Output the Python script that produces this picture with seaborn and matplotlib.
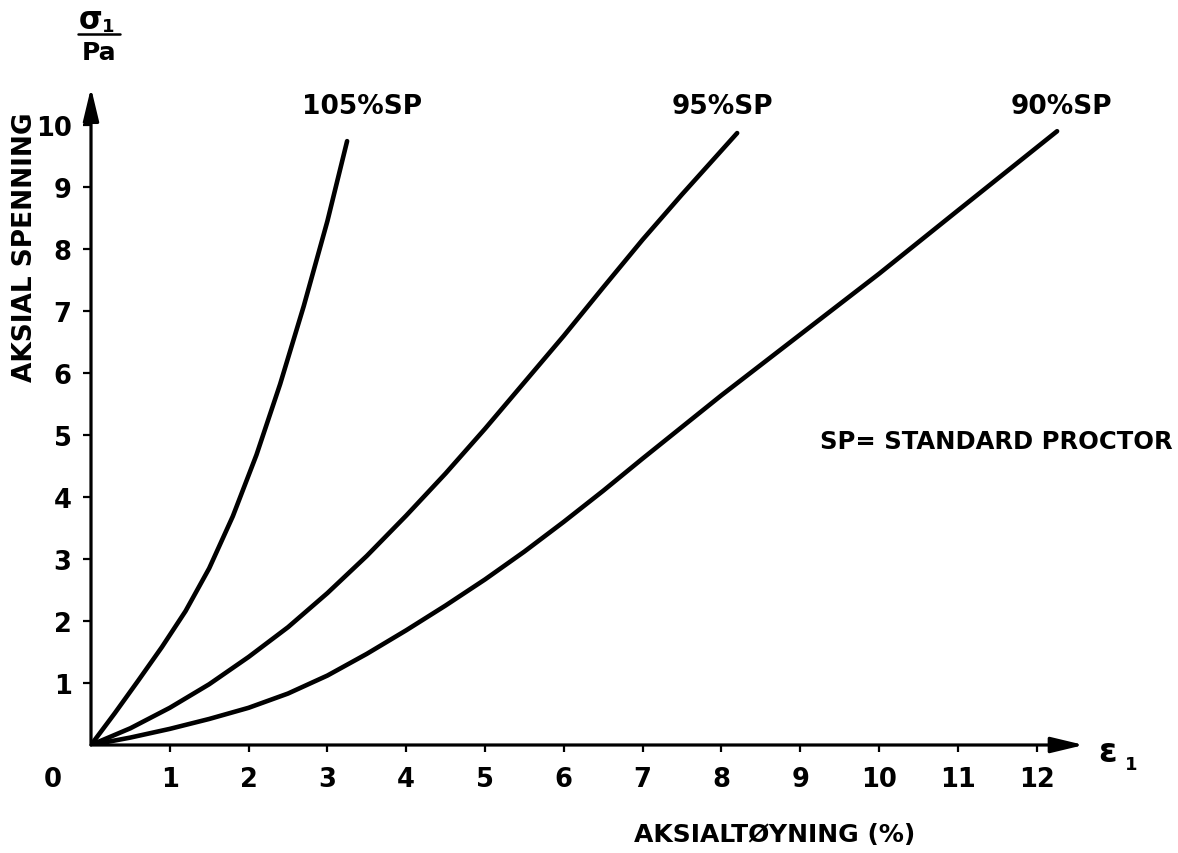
import matplotlib
matplotlib.use("Agg")
import matplotlib.pyplot as plt
from matplotlib import font_manager
import seaborn as sns
import pandas as pd

# ---- data ----
c105_x = [0, 0.30, 0.60, 0.90, 1.20, 1.50, 1.80, 2.10, 2.40, 2.70, 3.00, 3.25]
c105_y = [0, 0.51, 1.04, 1.58, 2.16, 2.85, 3.69, 4.68, 5.82, 7.08, 8.45, 9.74]

c95_x = [0, 0.50, 1.00, 1.50, 2.00, 2.50, 3.00, 3.50, 4.00, 4.50, 5.00, 5.50, 6.00, 6.50, 7.00, 7.50, 8.20]
c95_y = [0, 0.27, 0.60, 0.98, 1.42, 1.90, 2.45, 3.05, 3.70, 4.38, 5.10, 5.85, 6.60, 7.38, 8.15, 8.88, 9.87]

c90_x = [0, 0.50, 1.00, 1.50, 2.00, 2.50, 3.00, 3.50, 4.00, 4.50, 5.00, 5.50, 6.00, 6.50, 7.00, 8.00, 9.00, 10.00, 11.00, 12.26]
c90_y = [0, 0.12, 0.26, 0.42, 0.60, 0.83, 1.12, 1.47, 1.85, 2.25, 2.67, 3.12, 3.60, 4.10, 4.62, 5.64, 6.62, 7.60, 8.62, 9.90]

curve_names = ["105%SP", "95%SP", "90%SP"]
x_ticks = list(range(1, 13))
y_ticks = list(range(1, 11))

rows = []
for name, xs, ys in zip(curve_names, [c105_x, c95_x, c90_x], [c105_y, c95_y, c90_y]):
    for a, b in zip(xs, ys):
        rows.append({"curve": name, "eps": a, "sig": b})
df = pd.DataFrame(rows)

sns.set_theme(style="white")

names = {f.name for f in font_manager.fontManager.ttflist}
narrow = "Liberation Sans Narrow" in names
if narrow:
    fam = ["Liberation Sans Narrow", "DejaVu Sans"]
    fs = dict(tick=21, curve=24, note=22, xlab=23, ylab=24, zero=21, sig=26, sub=15, pa=22)
else:
    fam = ["DejaVu Sans"]
    fs = dict(tick=18.5, curve=19, note=17.5, xlab=18, ylab=19, zero=18.5, sig=24, sub=13, pa=18)
plt.rcParams["font.family"] = fam
plt.rcParams["font.weight"] = "bold"

fig = plt.figure(figsize=(11.78, 8.54), dpi=100)
W, H = 1178, 854
x0_px, y0_px = 91, 746
ux, uy = 78.8, 62.0
xmax, ymax = 12.6, 10.6
ax = fig.add_axes([x0_px / W, (H - y0_px) / H, xmax * ux / W, ymax * uy / H])

sns.lineplot(data=df, x="eps", y="sig", hue="curve", units="curve", estimator=None,
             palette=["black"] * 3, linewidth=3.3, legend=False, ax=ax, sort=False)
for ln in ax.get_lines():
    ln.set_solid_capstyle("round")
    ln.set_solid_joinstyle("round")

ax.set_xlim(0, xmax)
ax.set_ylim(0, ymax)
for s in ax.spines.values():
    s.set_visible(False)

arrow = dict(arrowstyle="-|>,head_length=1.0,head_width=0.24", color="black",
             lw=2.3, shrinkA=0, shrinkB=0, mutation_scale=20)
ax.annotate("", xy=(xmax, 0), xytext=(0, 0), xycoords="data", arrowprops=arrow,
            annotation_clip=False)
ax.annotate("", xy=(0, ymax), xytext=(0, 0), xycoords="data", arrowprops=arrow,
            annotation_clip=False)

ax.set_xticks(x_ticks)
ax.set_yticks(y_ticks)
ax.set_xticklabels([str(v) for v in x_ticks], fontweight="bold")
ax.set_yticklabels([str(v) for v in y_ticks], fontweight="bold")
ax.tick_params(axis="x", direction="out", length=5, width=1.6, pad=10,
               labelsize=fs["tick"], colors="black", bottom=True)
ax.tick_params(axis="y", direction="out", length=6, width=1.6, pad=8,
               labelsize=fs["tick"], colors="black", left=True)
ax.set_xlabel("")
ax.set_ylabel("")

kw = dict(transform=ax.transData, clip_on=False, color="black", fontweight="bold")
ax.text(-0.49, -0.55, "0", fontsize=fs["zero"], ha="center", va="center", **kw)
ax.text(3.44, 10.31, "105%SP", fontsize=fs["curve"], ha="center", va="center", **kw)
ax.text(8.01, 10.31, "95%SP", fontsize=fs["curve"], ha="center", va="center", **kw)
ax.text(12.32, 10.31, "90%SP", fontsize=fs["curve"], ha="center", va="center", **kw)
ax.text(9.25, 4.90, "SP= STANDARD PROCTOR", fontsize=fs["note"], ha="left", va="center", **kw)
ax.text(8.67, -1.44, "AKSIALTØYNING (%)", fontsize=fs["xlab"], ha="center", va="center", **kw)
ax.text(-0.84, 8.05, "AKSIAL SPENNING", fontsize=fs["ylab"], rotation=90,
        ha="center", va="center", **kw)
# epsilon_1 at the x arrow
ax.text(12.78, -0.10, "ε", fontsize=fs["sig"], ha="left", va="center",
        family=["DejaVu Sans"], **kw)
ax.text(13.12, -0.30, "1", fontsize=fs["sub"], ha="left", va="center", **kw)
# sigma_1 / Pa above the y arrow
ax.text(0.0, 11.70, "σ", fontsize=fs["sig"] - 2, ha="center", va="center",
        family=["DejaVu Sans"], **kw)
ax.text(0.22, 11.60, "1", fontsize=fs["sub"], ha="center", va="center", **kw)
ax.plot([-0.165, 0.37], [11.47, 11.47], color="black", lw=1.8, clip_on=False)
ax.text(0.10, 11.17, "Pa", fontsize=fs["pa"], ha="center", va="center", **kw)

fig.savefig("out.png", dpi=100, facecolor="white")
